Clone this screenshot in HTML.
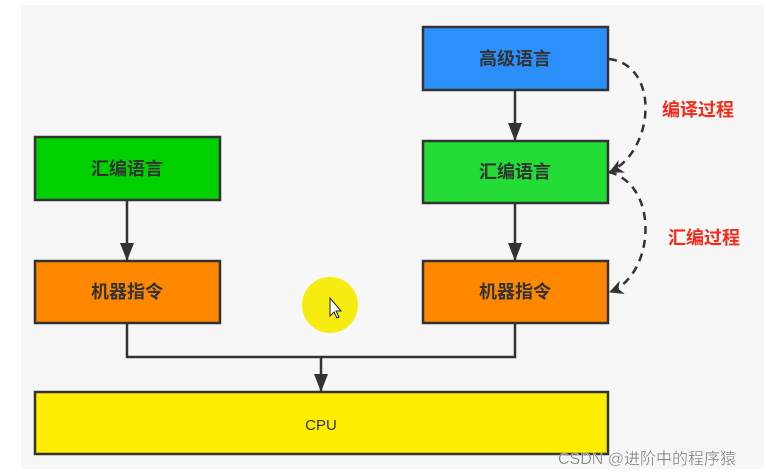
<!DOCTYPE html>
<html><head><meta charset="utf-8"><style>
body{margin:0;width:764px;height:474px;background:#fff;overflow:hidden}
</style></head><body>
<svg width="764" height="474" xmlns="http://www.w3.org/2000/svg" style="position:absolute;left:0;top:0">
<defs><marker id="a" markerWidth="18" markerHeight="14" refX="17" refY="7" orient="auto" markerUnits="userSpaceOnUse"><path d="M0,0 L18,7 L0,14 Z" fill="#333"/></marker>
<marker id="b" markerWidth="14" markerHeight="14" refX="13" refY="7" orient="auto" markerUnits="userSpaceOnUse"><path d="M0,0 L14,7 L0,14 L4,7 Z" fill="#333"/></marker></defs>
<rect x="21" y="5" width="743" height="464" fill="#f7f7f8"/>
<g stroke="#333" stroke-width="2.5">
<rect x="423" y="27" width="185" height="63" fill="#2b8ffc"/>
<rect x="423" y="141" width="185" height="62" fill="#24dc36"/>
<rect x="423" y="261" width="185" height="62" fill="#ff8800"/>
<rect x="35" y="137" width="185" height="63" fill="#00d000"/>
<rect x="35" y="261" width="185" height="62" fill="#ff8800"/>
<rect x="35" y="392" width="573" height="62" fill="#ffee00"/>
<g fill="none">
<line x1="515" y1="90" x2="515" y2="140" marker-end="url(#a)"/>
<line x1="515" y1="203" x2="515" y2="260" marker-end="url(#a)"/>
<line x1="127" y1="200" x2="127" y2="260" marker-end="url(#a)"/>
<polyline points="127,323 127,357 515,357 515,323"/>
<line x1="321" y1="357" x2="321" y2="391" marker-end="url(#a)"/>
<path d="M609,59 C660,65 655,150 610,172" stroke-dasharray="8,6" marker-end="url(#b)"/>
<path d="M609,172 C660,185 655,275 610,292" stroke-dasharray="8,6" marker-end="url(#b)"/>
</g></g>
<circle cx="330" cy="305" r="28" fill="#f6ec10"/>
<path d="M330,298 l0,18 l4,-4 l3,6 l2,-1 l-3,-6 l5,0 z" fill="#fff" stroke="#222" stroke-width="1"/>
<g font-family="Liberation Sans, Noto Sans CJK SC, sans-serif" font-weight="bold" font-size="18" fill="#333" text-anchor="middle">
<text x="515" y="65">高级语言</text>
<text x="515" y="178">汇编语言</text>
<text x="515" y="298">机器指令</text>
<text x="127" y="175">汇编语言</text>
<text x="127" y="298">机器指令</text>
</g>
<text x="321" y="430" font-family="Liberation Sans, sans-serif" font-size="15" fill="#333" text-anchor="middle">CPU</text>
<g font-family="Liberation Sans, Noto Sans CJK SC, sans-serif" font-weight="bold" font-size="18" fill="#f52a1a">
<text x="662" y="116">编译过程</text>
<text x="668" y="244">汇编过程</text>
</g>
<text x="558" y="464" font-family="Liberation Sans, Noto Sans CJK SC, sans-serif" font-size="16" fill="#777" stroke="#fff" stroke-width="0.3">CSDN @进阶中的程序猿</text>
</svg>
</body></html>
